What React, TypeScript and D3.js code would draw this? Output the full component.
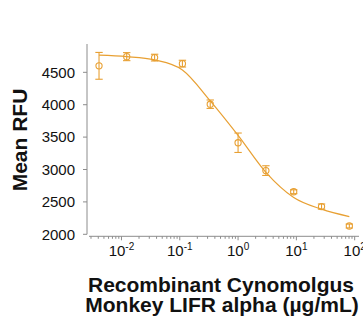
import { useEffect, useRef } from "react";
import * as d3 from "d3";

// concentrations in ug/mL (3-fold dilution series)
const concentrations = [0.00412, 0.0123, 0.037, 0.111, 0.333, 1, 3, 9, 27, 81];
const meanRFU = [4600, 4742, 4727, 4634, 4008, 3413, 2983, 2657, 2428, 2128];
const errRFU = [207, 62, 52, 52, 65, 150, 75, 30, 40, 30];
// fitted curve read at each concentration
const fitRFU = [4764, 4742, 4691, 4536, 4059, 3526, 2956, 2568, 2388, 2273];
const yTicks = [2000, 2500, 3000, 3500, 4000, 4500];
const xTickExps = [-2, -1, 0, 1, 2];

const colour = "#E8A033";
const axisColour = "#8c8c8c";
const font = "'Liberation Sans', Arial, sans-serif";

export default function App() {
  const svgRef = useRef<SVGSVGElement>(null);

  useEffect(() => {
    if (!svgRef.current) return;
    const svg = d3.select(svgRef.current);
    svg.selectAll("*").remove();

    const xScale = d3.scaleLog()
      .domain([Math.pow(10, -2.557), Math.pow(10, 2.057)])
      .range([89, 358]);
    const yScale = d3.scaleLinear()
      .domain([2000, 4937])
      .range([234.3, 44]);

    // y axis
    const gy = svg.append("g");
    gy.append("line")
      .attr("x1", 87).attr("x2", 87)
      .attr("y1", yScale(4937)).attr("y2", yScale(2000))
      .attr("stroke", axisColour).attr("stroke-width", 1);
    gy.selectAll("line.tick")
      .data(yTicks)
      .enter()
      .append("line")
      .attr("class", "tick")
      .attr("x1", 83).attr("x2", 87)
      .attr("y1", d => yScale(d)).attr("y2", d => yScale(d))
      .attr("stroke", axisColour);
    gy.selectAll("text")
      .data(yTicks)
      .enter()
      .append("text")
      .attr("x", 75)
      .attr("y", d => yScale(d))
      .attr("dy", "0.35em")
      .attr("text-anchor", "end")
      .attr("font-family", font)
      .attr("font-size", 15)
      .attr("fill", "#111")
      .text(d => d);

    // x axis
    const axisY = 236.3;
    const gx = svg.append("g");
    gx.append("line")
      .attr("x1", 89).attr("x2", 359)
      .attr("y1", axisY).attr("y2", axisY)
      .attr("stroke", axisColour);
    const [d0, d1] = xScale.domain();
    const minor: number[] = [];
    for (let e = -3; e <= 2; e++) {
      for (let k = 2; k <= 9; k++) {
        const v = k * Math.pow(10, e);
        if (v >= d0 && v <= d1) minor.push(v);
      }
    }
    gx.selectAll("line.minor")
      .data(minor)
      .enter()
      .append("line")
      .attr("class", "minor")
      .attr("x1", d => xScale(d)).attr("x2", d => xScale(d))
      .attr("y1", axisY).attr("y2", axisY + 2.5)
      .attr("stroke", axisColour);
    gx.selectAll("line.major")
      .data(xTickExps)
      .enter()
      .append("line")
      .attr("class", "major")
      .attr("x1", d => xScale(Math.pow(10, d))).attr("x2", d => xScale(Math.pow(10, d)))
      .attr("y1", axisY).attr("y2", axisY + 4)
      .attr("stroke", axisColour);
    const labels = gx.selectAll("text")
      .data(xTickExps)
      .enter()
      .append("text")
      .attr("x", d => xScale(Math.pow(10, d)))
      .attr("y", 256)
      .attr("text-anchor", "middle")
      .attr("font-family", font)
      .attr("font-size", 15)
      .attr("fill", "#111");
    labels.append("tspan").text("10");
    labels.append("tspan")
      .attr("font-size", 10)
      .attr("dy", -6)
      .text(d => d);

    // axis titles
    svg.append("text")
      .attr("transform", "translate(27,140) rotate(-90)")
      .attr("text-anchor", "middle")
      .attr("font-family", font)
      .attr("font-size", 21)
      .attr("font-weight", "bold")
      .attr("fill", "#111")
      .text("Mean RFU");
    const xt = svg.append("text")
      .attr("text-anchor", "middle")
      .attr("font-family", font)
      .attr("font-size", 21)
      .attr("font-weight", "bold")
      .attr("fill", "#111");
    xt.append("tspan").attr("x", 221).attr("y", 292).text("Recombinant Cynomolgus");
    xt.append("tspan").attr("x", 222).attr("y", 311.5).text("Monkey LIFR alpha (\u00b5g/mL)");

    // fitted curve
    const line = d3.line<number>()
      .x((_, i) => xScale(concentrations[i]))
      .y(d => yScale(d))
      .curve(d3.curveMonotoneX);
    svg.append("path")
      .datum(fitRFU)
      .attr("d", line)
      .attr("fill", "none")
      .attr("stroke", colour)
      .attr("stroke-width", 1.2);

    // error bars and markers
    const pts = svg.append("g")
      .selectAll("g")
      .data(meanRFU)
      .enter()
      .append("g")
      .attr("stroke", colour)
      .attr("stroke-width", 1.1)
      .attr("fill", "none");
    pts.append("line")
      .attr("x1", (_, i) => xScale(concentrations[i]))
      .attr("x2", (_, i) => xScale(concentrations[i]))
      .attr("y1", (d, i) => yScale(d + errRFU[i]))
      .attr("y2", (d, i) => yScale(d - errRFU[i]));
    [1, -1].forEach(sign => {
      pts.append("line")
        .attr("x1", (_, i) => xScale(concentrations[i]) - 3.7)
        .attr("x2", (_, i) => xScale(concentrations[i]) + 3.7)
        .attr("y1", (d, i) => yScale(d + sign * errRFU[i]))
        .attr("y2", (d, i) => yScale(d + sign * errRFU[i]));
    });
    pts.append("circle")
      .attr("cx", (_, i) => xScale(concentrations[i]))
      .attr("cy", d => yScale(d))
      .attr("r", 3.1);
  }, []);

  return (
    <svg
      ref={svgRef}
      width={363}
      height={326}
      style={{ position: "absolute", left: 0, top: 0, background: "#fff" }}
    />
  );
}
